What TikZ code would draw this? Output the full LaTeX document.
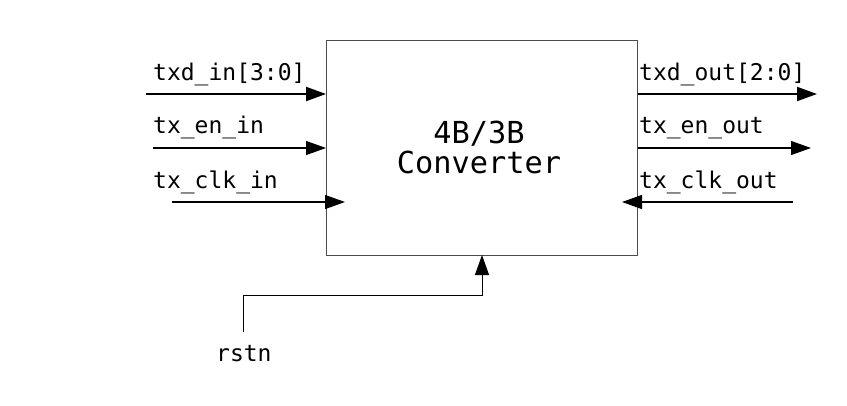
\documentclass[tikz,border=0pt]{standalone}
\usepackage{fontspec}
\setmonofont{DejaVu Sans Mono}
\usetikzlibrary{arrows.meta}
\begin{document}
\begin{tikzpicture}[x=1pt,y=-1pt,
  lbl/.style={font=\ttfamily\fontsize{23}{27}\selectfont, inner sep=0pt, anchor=base west},
  sig/.style={line width=1.3pt, -{Triangle[length=20pt,width=14pt]}},
  bus/.style={line width=2pt, -{Triangle[length=20pt,width=14pt]}}]
\useasboundingbox (0,0) rectangle (847,405);
\node[draw=black!70, line width=1pt, minimum width=311pt, minimum height=215pt, inner sep=0pt, anchor=north west] (conv) at (326,40) {};
\node[font=\ttfamily\fontsize{30.3}{34}\selectfont, inner sep=0pt, anchor=base] (t1) at (479,143) {4B/3B};
\node[font=\ttfamily\fontsize{30.3}{34}\selectfont, inner sep=0pt, anchor=base] (t2) at (479,173) {Converter};
% inputs
\coordinate (a0) at (146,94);
\coordinate (b0) at (153,148);
\coordinate (c0) at (172,202);
\coordinate (c1) at (345,202);
\draw[bus] (a0) -- (a0 -| conv.west);
\draw[sig] (b0) -- (b0 -| conv.west);
\draw[sig] (c0) -- (c1);
\node[lbl] (la) at (153,80.5) {txd\_in[3:0]};
\node[lbl] (lb) at (153,133) {tx\_en\_in};
\node[lbl] (lc) at (153,188) {tx\_clk\_in};
% outputs
\coordinate (d1) at (817,94);
\coordinate (e1) at (811,148);
\coordinate (f0) at (793,202);
\coordinate (f1) at (622,202);
\draw[bus] (d1 -| conv.east) -- (d1);
\draw[sig] (e1 -| conv.east) -- (e1);
\draw[sig] (f0) -- (f1);
\node[lbl] (ld) at (639,80.5) {txd\_out[2:0]};
\node[lbl] (le) at (639,133) {tx\_en\_out};
\node[lbl] (lf) at (639,188) {tx\_clk\_out};
% reset
\coordinate (r0) at (243,332);
\coordinate (r1) at (482,255);
\draw[sig, line width=1pt] (r0) |- (482,295) -- (r1);
\node[lbl] (lr) at (216,361.5) {rstn};
\end{tikzpicture}
\end{document}
